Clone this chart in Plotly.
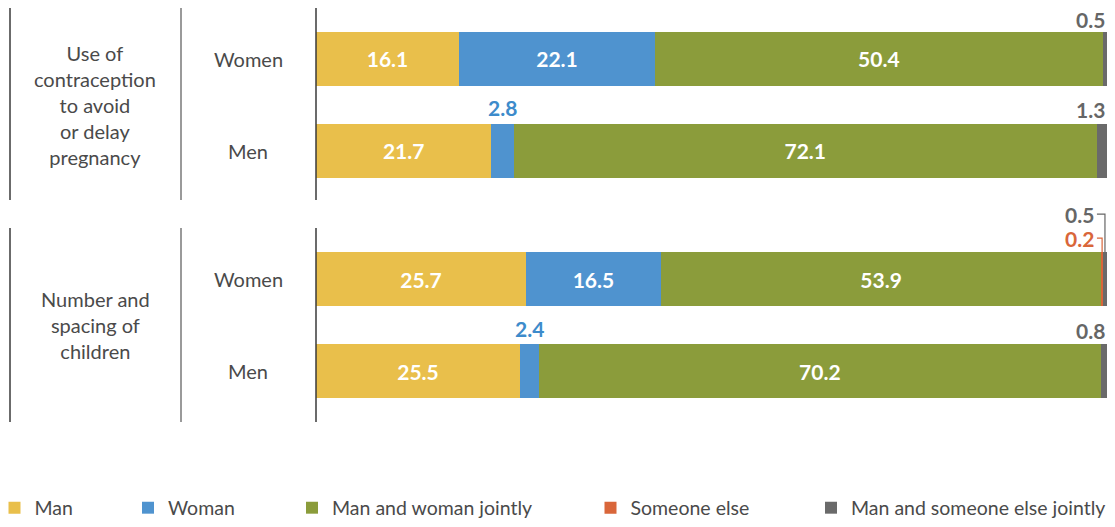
import plotly.graph_objects as go

# ---------------- data ----------------
groups = ["Use of<br>contraception<br>to avoid<br>or delay<br>pregnancy",
          "Number and<br>spacing of<br>children"]
respondents = ["Women", "Men"]
series_names = ["Man", "Woman", "Man and woman jointly", "Someone else",
                "Man and someone else jointly"]
series_colors = ["#E9BF4B", "#4F93CF", "#8B9C3B", "#D9663A", "#6A6A6A"]
label_colors = ["#E9BF4B", "#3D8BCB", "#8B9C3B", "#D9663A", "#666666"]

# values per group, ordered [Women, Men]
man = [[16.1, 21.7], [25.7, 25.5]]
woman = [[22.1, 2.8], [16.5, 2.4]]
jointly = [[50.4, 72.1], [53.9, 70.2]]
someone_else = [[0.0, 0.0], [0.2, 0.0]]
man_someone_else = [[0.5, 1.3], [0.5, 0.8]]

series_values = [man, woman, jointly, someone_else, man_someone_else]

# ---------------- figure ----------------
FONT = "Lato"
OFF = 8                      # page offset of the plot div (body margin)
W, H = 1115 - 2 * OFF, 527 - 2 * OFF
PL, PR, PT, PB = 316, 1107, 8, 422   # plot area in page pixels
ML, MR, MT, MB = PL - OFF, W - (PR - OFF), PT - OFF, H - (PB - OFF)
plot_w = W - ML - MR
plot_h = H - MT - MB
BAR_W = 0.587
UNIT_PX = 92
SMALL = 5


def px_x(px):
    return (px - PL) / plot_w


def px_y(py):
    return (PB - py) / plot_h


fig = go.Figure()
axis_names = [("x", "y"), ("x2", "y2")]

for g in range(len(groups)):
    xa, ya = axis_names[g]
    for s, name in enumerate(series_names):
        vals = series_values[s][g]
        fig.add_trace(go.Bar(
            y=respondents, x=vals, orientation="h", name=name,
            marker=dict(color=series_colors[s], line=dict(width=0)),
            width=BAR_W,
            text=[f"{v:.1f}" if v >= SMALL else "" for v in vals],
            textposition="inside", insidetextanchor="middle", textangle=0,
            textfont=dict(family=FONT, size=21, color="white", weight=700),
            xaxis=xa, yaxis=ya,
            showlegend=(g == 0),
            legend=("legend" if s == 0 else f"legend{s+1}"),
            hoverinfo="skip",
        ))

d_split = px_y(200)
fig.update_layout(
    width=W, height=H,
    margin=dict(l=ML, r=MR, t=MT, b=MB, autoexpand=False),
    paper_bgcolor="white", plot_bgcolor="white",
    barmode="stack", barnorm="percent",
    font=dict(family=FONT, size=20, color="#4a4a4a"),
    xaxis=dict(range=[0, 100], visible=False, domain=[0, 1], anchor="y"),
    xaxis2=dict(range=[0, 100], visible=False, domain=[0, 1], anchor="y2"),
    yaxis=dict(domain=[d_split, 1], range=[-0.533, 1.554], showticklabels=False,
               showgrid=False, zeroline=False, categoryorder="array",
               categoryarray=["Men", "Women"], anchor="x"),
    yaxis2=dict(domain=[0, d_split], range=[-0.554, 1.859], showticklabels=False,
                showgrid=False, zeroline=False, categoryorder="array",
                categoryarray=["Men", "Women"], anchor="x2"),
    showlegend=True,
)

annotations = []
shapes = []

# group labels and respondent labels
group_centers = [105, 325]
for g, label in enumerate(groups):
    annotations.append(dict(text=label, xref="paper", yref="paper",
                            x=px_x(95), y=px_y(group_centers[g]),
                            showarrow=False, xanchor="center", yanchor="middle",
                            font=dict(family=FONT, size=20, color="#4a4a4a")))
    xa, ya = axis_names[g]
    for r in respondents:
        annotations.append(dict(text=r, xref="paper", yref=ya, x=px_x(248), y=r,
                                showarrow=False, xanchor="center", yanchor="middle",
                                font=dict(family=FONT, size=20, color="#4a4a4a")))

# separator lines
segments = [(8, 200), (228, 422)]
for (y0, y1) in segments:
    for xpx, col, wd in [(10, "#3a3a3a", 1.5), (181, "#9a9a9a", 2), (316, "#3a3a3a", 1.5)]:
        shapes.append(dict(type="line", xref="paper", yref="paper",
                           x0=px_x(xpx), x1=px_x(xpx), y0=px_y(y0), y1=px_y(y1),
                           line=dict(color=col, width=wd)))

# small-value labels outside the bars
half_bar_px = BAR_W / 2 * UNIT_PX
for g in range(len(groups)):
    xa, ya = axis_names[g]
    for ri, r in enumerate(respondents):
        vals = [series_values[s][g][ri] for s in range(len(series_names))]
        total = sum(vals)
        cum = 0.0
        starts = []
        for v in vals:
            starts.append(cum / total * 100)
            cum += v
        ends_small = [s for s in (3, 4) if 0 < vals[s] < SMALL]
        cat_pos = (len(respondents) - 1 - ri)
        for s in range(len(series_names)):
            v = vals[s]
            if v <= 0 or v >= SMALL:
                continue
            mid = starts[s] + v / total * 50
            font = dict(family=FONT, size=21, weight=700, color=label_colors[s])
            if s in (3, 4):
                if len(ends_small) == 1:
                    lift = 12 if (g == 0 and ri == 0) else 14
                    annotations.append(dict(
                        text=f"{v:.1f}", xref=xa, yref=ya, x=100, y=r,
                        xanchor="right", yanchor="middle", showarrow=False,
                        yshift=half_bar_px + lift, font=font))
                else:
                    level = ends_small.index(s)
                    lift = 14 if level == 0 else 38
                    x_lab = starts[ends_small[0]] - 0.65
                    annotations.append(dict(
                        text=f"{v:.1f}", xref=xa, yref=ya, x=x_lab, y=r,
                        xanchor="right", yanchor="middle", showarrow=False,
                        yshift=half_bar_px + lift, font=font))
                    shapes.append(dict(
                        type="path", xref=xa, yref=ya, ysizemode="pixel",
                        yanchor=cat_pos + BAR_W / 2,
                        path=f"M {x_lab + 0.1},{lift} L {mid},{lift} L {mid},0",
                        line=dict(color=label_colors[s], width=1.2)))
            else:
                annotations.append(dict(
                    text=f"{v:.1f}", xref=xa, yref=ya, x=mid, y=r,
                    xanchor="center", yanchor="middle", showarrow=False,
                    yshift=half_bar_px + 16, font=font))

# legends, one per series so each entry sits where the reference puts it
legend_px = [8.5, 142, 306, 604.5, 825]
for s in range(len(series_names)):
    key = "legend" if s == 0 else f"legend{s+1}"
    fig.update_layout({key: dict(
        orientation="h", x=px_x(legend_px[s] - 14), y=px_y(508),
        xanchor="left", yanchor="middle", bgcolor="rgba(0,0,0,0)",
        font=dict(family=FONT, size=19.5, color="#4a4a4a"),
        itemwidth=30, itemclick=False, itemdoubleclick=False)})

fig.update_layout(annotations=annotations, shapes=shapes)
fig.write_html("out.html")
